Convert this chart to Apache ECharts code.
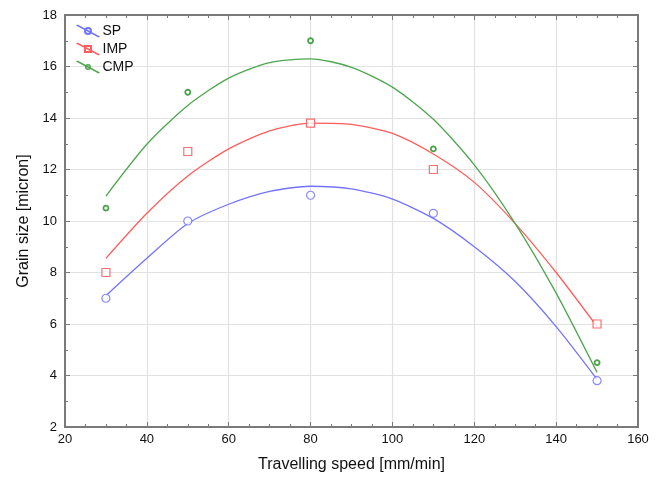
<!DOCTYPE html>
<html>
<head>
<meta charset="utf-8">
<script src="https://cdn.jsdelivr.net/npm/echarts@6/dist/echarts.min.js"></script>
<style>
  html, body { margin: 0; padding: 0; background: #fff; }
  #chart { width: 660px; height: 479px; }
</style>
</head>
<body>
<div id="chart"></div>
<script>
// measured points
var speeds = [30, 50, 80, 110, 150]
var spPts = [7, 10, 11, 10.3, 3.8]
var impPts = [8, 12.7, 13.8, 12, 6]
var cmpPts = [10.5, 15, 17, 12.8, 4.5]

// fitted curves, every 10 mm/min
var curveX = [30, 40, 50, 60, 70, 80, 90, 100, 110, 120, 130, 140, 150]
var spCurve = [7.1, 8.55, 9.9, 10.65, 11.15, 11.35, 11.25, 10.85, 10.1, 9.0, 7.65, 5.9, 3.85]
var impCurve = [8.55, 10.3, 11.75, 12.8, 13.5, 13.8, 13.75, 13.4, 12.6, 11.5, 9.9, 8.0, 5.9]
var cmpCurve = [10.97, 12.98, 14.49, 15.55, 16.15, 16.3, 15.97, 15.2, 13.95, 12.18, 9.9, 7.2, 4.12]

var names = ['SP', 'IMP', 'CMP']

function pairs (xs, ys) {
  var out = []
  for (var i = 0; i < xs.length; i++) out.push([xs[i], ys[i]])
  return out
}

var colors = { SP: '#7373ff', IMP: '#ff5c5c', CMP: '#4ea64e' }
var markColors = { SP: '#6a6aff', IMP: '#ff4a4a', CMP: '#1e8a1e' }

var icons = {
  SP: 'path://M0,1 L1.5,0 L24,12 L22.5,13 Z M12,2.5 A4,4 0 1 1 11.99,2.5 Z M12,4.5 A2,2 0 1 0 12.01,4.5 Z',
  IMP: 'path://M0,1 L1.5,0 L24,12 L22.5,13 Z M8,2.5 L16,2.5 L16,10.5 L8,10.5 Z M10,4.5 L10,8.5 L14,8.5 L14,4.5 Z',
  CMP: 'path://M0,1 L1.5,0 L24,12 L22.5,13 Z M12,3.5 A3,3 0 1 1 11.99,3.5 Z M12,5 A1.5,1.5 0 1 0 12.01,5 Z'
}

var fontFam = '"Liberation Sans", Arial, sans-serif'

var axisCommon = {
  type: 'value',
  axisLine: { show: true, onZero: false, lineStyle: { color: '#7a7a7a', width: 2 } },
  axisTick: { show: true, inside: true, length: 5, lineStyle: { color: '#7a7a7a' } }
}

var chart = echarts.init(document.getElementById('chart'))

var series = []
var pts = { SP: spPts, IMP: impPts, CMP: cmpPts }
var curves = { SP: spCurve, IMP: impCurve, CMP: cmpCurve }
var symbols = { SP: 'circle', IMP: 'rect', CMP: 'circle' }
var sizes = { SP: 8, IMP: 8, CMP: 5 }
names.forEach(function (n) {
  series.push({
    name: n,
    type: 'line',
    data: pairs(curveX, curves[n]),
    smooth: 0.25,
    symbol: 'none',
    lineStyle: { color: colors[n], width: 1.3 },
    itemStyle: { color: colors[n] },
    z: 2
  })
  series.push({
    name: n,
    type: 'scatter',
    data: pairs(speeds, pts[n]),
    symbol: symbols[n],
    symbolSize: sizes[n],
    itemStyle: { color: '#fff', borderColor: markColors[n], borderWidth: n === 'CMP' ? 1.8 : 1.2 },
    z: 3
  })
})

chart.setOption({
  animation: false,
  backgroundColor: '#fff',
  textStyle: { fontFamily: fontFam },
  grid: { left: 65, right: 22, top: 15, bottom: 52, show: true, borderColor: '#7a7a7a', borderWidth: 2 },
  legend: {
    orient: 'vertical',
    left: 71,
    top: 19,
    itemWidth: 25,
    itemHeight: 13,
    itemGap: 4,
    textStyle: { fontSize: 14, color: '#111', fontFamily: fontFam, padding: [0, 0, 0, -3] },
    data: names.map(function (n) {
      return { name: n, icon: icons[n], itemStyle: { color: colors[n] } }
    })
  },
  xAxis: [
    Object.assign({}, axisCommon, {
      min: 20, max: 160, interval: 20,
      name: 'Travelling speed [mm/min]',
      nameLocation: 'middle',
      nameGap: 30,
      nameTextStyle: { fontSize: 16, color: '#111', fontFamily: fontFam },
      minorTick: { show: true, splitNumber: 4, length: 3, lineStyle: { color: '#7a7a7a' } },
      axisLabel: { fontSize: 13, color: '#111', margin: 6 },
      splitLine: { show: true, lineStyle: { color: '#e2e2e2', width: 1.2 } }
    }),
    Object.assign({}, axisCommon, {
      position: 'top',
      min: 20, max: 160, interval: 20,
      minorTick: { show: true, splitNumber: 4, length: 3, lineStyle: { color: '#7a7a7a' } },
      axisLabel: { show: false },
      splitLine: { show: false }
    })
  ],
  yAxis: [
    Object.assign({}, axisCommon, {
      min: 2, max: 18, interval: 2,
      name: 'Grain size [micron]',
      nameLocation: 'middle',
      nameGap: 30,
      nameTextStyle: { fontSize: 16, color: '#111', fontFamily: fontFam },
      minorTick: { show: true, splitNumber: 2, length: 3, lineStyle: { color: '#7a7a7a' } },
      axisLabel: { fontSize: 13, color: '#111', margin: 8 },
      splitLine: { show: true, lineStyle: { color: '#e2e2e2', width: 1.2 } }
    }),
    Object.assign({}, axisCommon, {
      position: 'right',
      min: 2, max: 18, interval: 2,
      minorTick: { show: true, splitNumber: 2, length: 3, lineStyle: { color: '#7a7a7a' } },
      axisLabel: { show: false },
      splitLine: { show: false }
    })
  ],
  series: series
})
</script>
</body>
</html>
